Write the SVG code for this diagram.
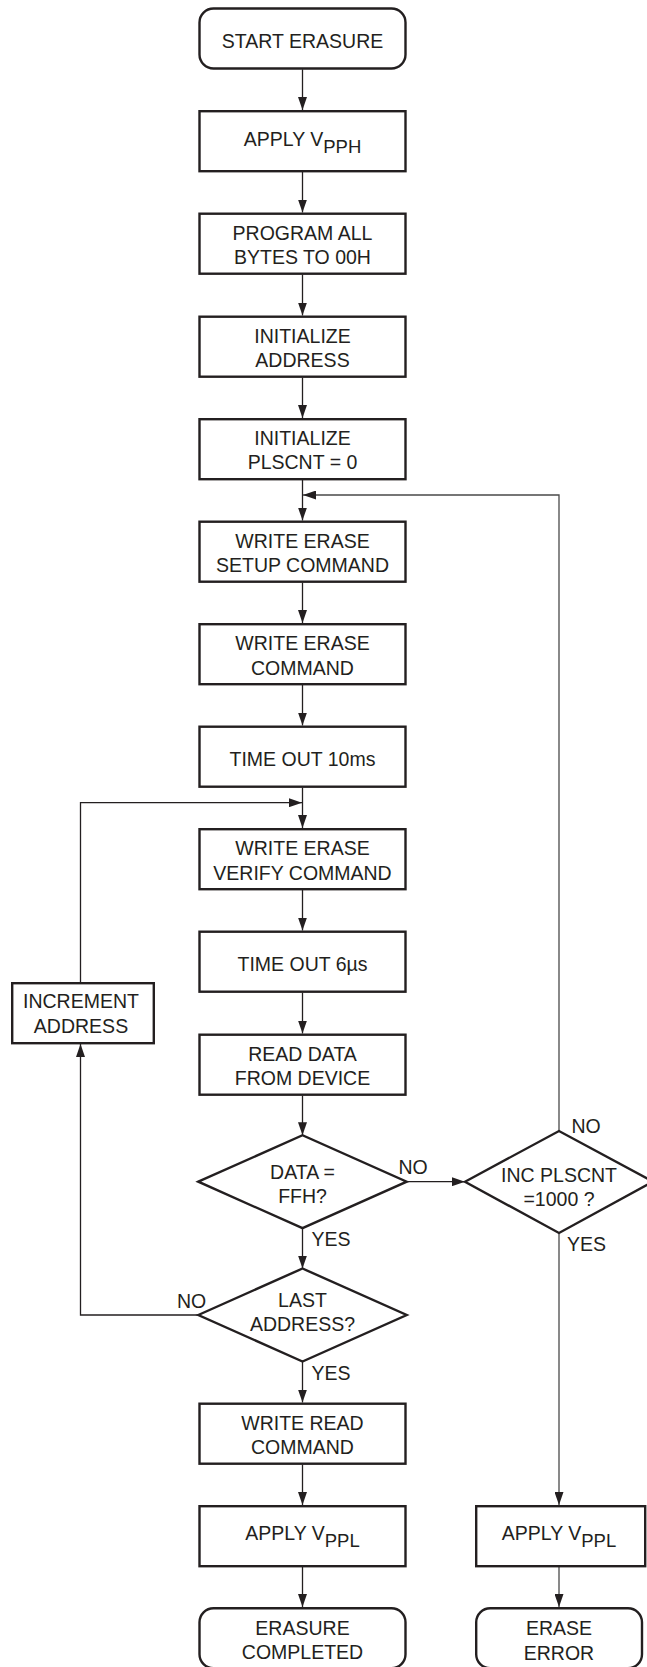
<svg xmlns="http://www.w3.org/2000/svg" width="647" height="1667" viewBox="0 0 647 1667">
<style>
.b{fill:#fff;stroke:#231f20;stroke-width:2.4}
.c{fill:none;stroke:#231f20;stroke-width:1.3}
.g{fill:none;stroke:#4a4a4a;stroke-width:1.3}
text{font-family:"Liberation Sans",Arial,sans-serif;font-size:19.5px;fill:#231f20;text-anchor:middle}
.l{text-anchor:start}
.s{font-size:18.5px}
</style>
<defs>
<marker id="a" markerUnits="userSpaceOnUse" markerWidth="13" markerHeight="9" refX="13" refY="4.5" orient="auto">
<path d="M0,0 L13,4.5 L0,9 z" fill="#231f20"/>
</marker>
</defs>
<rect width="647" height="1667" fill="#fff"/>
<g id="connectors">
<path class="c" d="M302.5,69.3V110" marker-end="url(#a)"/>
<path class="c" d="M302.5,172V212.5" marker-end="url(#a)"/>
<path class="c" d="M302.5,274.5V315.5" marker-end="url(#a)"/>
<path class="c" d="M302.5,377.5V418" marker-end="url(#a)"/>
<path class="c" d="M302.5,480V520.5" marker-end="url(#a)"/>
<path class="c" d="M302.5,582.5V623" marker-end="url(#a)"/>
<path class="c" d="M302.5,685V725.5" marker-end="url(#a)"/>
<path class="c" d="M302.5,787.5V828" marker-end="url(#a)"/>
<path class="c" d="M302.5,890V930.5" marker-end="url(#a)"/>
<path class="c" d="M302.5,992.5V1033.5" marker-end="url(#a)"/>
<path class="c" d="M302.5,1095.5V1135.2" marker-end="url(#a)"/>
<path class="c" d="M302.5,1228.2V1268.5" marker-end="url(#a)"/>
<path class="c" d="M302.5,1361.5V1402.5" marker-end="url(#a)"/>
<path class="c" d="M302.5,1464.5V1505" marker-end="url(#a)"/>
<path class="c" d="M302.5,1567V1607" marker-end="url(#a)"/>
<path class="c" d="M406.7,1181.7H465" marker-end="url(#a)"/>
<path class="g" d="M559,1131V495H303" marker-end="url(#a)"/>
<path class="g" d="M559,1233V1505" marker-end="url(#a)"/>
<path class="g" d="M559,1567V1607" marker-end="url(#a)"/>
<path class="c" d="M198.3,1315H80.5V1044" marker-end="url(#a)"/>
<path class="c" d="M80.5,982V802.7H302" marker-end="url(#a)"/>
</g>
<g id="start"><rect class="b" x="199.5" y="8.5" width="206" height="60" rx="14"/><text x="302.5" y="47.5">START ERASURE</text></g>
<g id="vpph"><rect class="b" x="199.5" y="111.2" width="206" height="60"/><text x="302.5" y="145.7">APPLY V<tspan class="s" dy="7.6">PPH</tspan></text></g>
<g id="program"><rect class="b" x="199.5" y="213.7" width="206" height="60"/><text x="302.5" y="239.5">PROGRAM ALL</text><text x="302.5" y="264">BYTES TO 00H</text></g>
<g id="initaddr"><rect class="b" x="199.5" y="316.7" width="206" height="60"/><text x="302.5" y="342.5">INITIALIZE</text><text x="302.5" y="367">ADDRESS</text></g>
<g id="initpls"><rect class="b" x="199.5" y="419.2" width="206" height="60"/><text x="302.5" y="444.8">INITIALIZE</text><text x="302.5" y="469.3">PLSCNT = 0</text></g>
<g id="setup"><rect class="b" x="199.5" y="521.7" width="206" height="60"/><text x="302.5" y="547.7">WRITE ERASE</text><text x="302.5" y="571.9">SETUP COMMAND</text></g>
<g id="erase"><rect class="b" x="199.5" y="624.2" width="206" height="60"/><text x="302.5" y="650">WRITE ERASE</text><text x="302.5" y="674.5">COMMAND</text></g>
<g id="to10"><rect class="b" x="199.5" y="726.7" width="206" height="60"/><text x="302.5" y="765.5">TIME OUT 10ms</text></g>
<g id="verify"><rect class="b" x="199.5" y="829.2" width="206" height="60"/><text x="302.5" y="855">WRITE ERASE</text><text x="302.5" y="879.5">VERIFY COMMAND</text></g>
<g id="to6"><rect class="b" x="199.5" y="931.7" width="206" height="60"/><text x="302.5" y="970.7">TIME OUT 6µs</text></g>
<g id="read"><rect class="b" x="199.5" y="1034.7" width="206" height="60"/><text x="302.5" y="1060.5">READ DATA</text><text x="302.5" y="1085">FROM DEVICE</text></g>
<g id="dataffh"><polygon class="b" points="198.3,1181.7 302.5,1135.2 406.7,1181.7 302.5,1228.2"/><text x="302.5" y="1179">DATA =</text><text x="302.5" y="1202.7">FFH?</text></g>
<g id="last"><polygon class="b" points="198.3,1315 302.5,1268.5 406.7,1315 302.5,1361.5"/><text x="302.5" y="1306.7">LAST</text><text x="302.5" y="1330.7">ADDRESS?</text></g>
<g id="writeread"><rect class="b" x="199.5" y="1403.7" width="206" height="60"/><text x="302.5" y="1429.5">WRITE READ</text><text x="302.5" y="1454">COMMAND</text></g>
<g id="vppl1"><rect class="b" x="199.5" y="1506.2" width="206" height="60"/><text x="302.5" y="1540">APPLY V<tspan class="s" dy="7.4">PPL</tspan></text></g>
<g id="done"><rect class="b" x="199.5" y="1608.2" width="206" height="60" rx="14"/><text x="302.5" y="1635">ERASURE</text><text x="302.5" y="1658.5">COMPLETED</text></g>
<g id="incaddr"><rect class="b" x="12.2" y="983.2" width="141.6" height="60"/><text x="81" y="1008.3">INCREMENT</text><text x="81" y="1033.3">ADDRESS</text></g>
<g id="incpls"><polygon class="b" points="465,1181.7 559,1131 653,1181.7 559,1233"/><text x="559" y="1182">INC PLSCNT</text><text x="559" y="1206">=1000 ?</text></g>
<g id="vppl2"><rect class="b" x="476.2" y="1506.2" width="169" height="60"/><text x="559" y="1540">APPLY V<tspan class="s" dy="7.4">PPL</tspan></text></g>
<g id="err"><rect class="b" x="476.2" y="1608.2" width="165.8" height="60" rx="14"/><text x="559" y="1635">ERASE</text><text x="559" y="1660">ERROR</text></g>
<g id="labels">
<text class="l" x="398.5" y="1174">NO</text>
<text class="l" x="311.5" y="1246">YES</text>
<text class="l" x="177" y="1308.3">NO</text>
<text class="l" x="311.5" y="1379.5">YES</text>
<text class="l" x="571.5" y="1133.3">NO</text>
<text class="l" x="567" y="1250.7">YES</text>
</g>
</svg>
